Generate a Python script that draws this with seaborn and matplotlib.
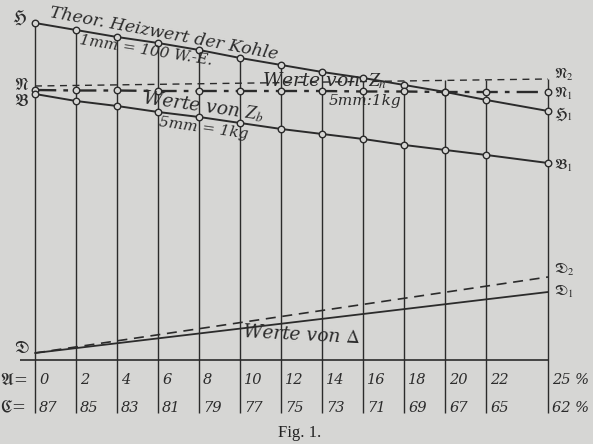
import numpy as np
import pandas as pd
import matplotlib
matplotlib.use("Agg")
import matplotlib.pyplot as plt
import seaborn as sns

# ---- data (heights above the base line) ----
a_vals = [0, 2, 4, 6, 8, 10, 12, 14, 16, 18, 20, 22, 25]          # A (%)
c_vals = [87, 85, 83, 81, 79, 77, 75, 73, 71, 69, 67, 65, 62]    # C (%)
h_vals = [337, 330, 323, 317, 310, 302, 295, 288, 282, 275, 268, 260, 249]   # Theor. Heizwert
n1_vals = [270, 269.5, 269.5, 269, 269, 269, 269, 269, 268.5, 268.5, 268, 268, 268]  # Zn
n2_x = [0, 25]
n2_vals = [274, 281]                                               # N2 dashed
b_vals = [266, 259, 254, 248, 243, 237, 231, 226, 221, 215, 210, 205, 197]   # Zb
d_x = [0, 25]
d1_vals = [7, 68]
d2_vals = [7, 83]

BG = "#d6d6d4"
INK = "#2b2b2b"

sns.set_theme(style="white")
plt.rcParams["mathtext.fontset"] = "stix"
plt.rcParams["font.family"] = ["DejaVu Serif"]

fig = plt.figure(figsize=(5.93, 4.44), dpi=100, facecolor=BG)
ax = fig.add_axes([0, 0, 1, 1], facecolor=BG)
ax.set_xlim(-35 / 20.52, (593 - 35) / 20.52)
ax.set_ylim(360 - 444, 360)
ax.axis("off")

df = pd.DataFrame({"A": a_vals, "H": h_vals, "N1": n1_vals, "B": b_vals})

# vertical lines
n2_at = np.interp(a_vals, n2_x, n2_vals)
tops = np.maximum(np.array(h_vals), n2_at)
ax.vlines(a_vals, -53, tops, color=INK, lw=1.0, zorder=1)
# base line
ax.hlines(0, -0.73, 25, color=INK, lw=1.2, zorder=1)

# main lines
sns.lineplot(data=df, x="A", y="H", ax=ax, color=INK, lw=1.4, zorder=2)
sns.lineplot(data=df, x="A", y="B", ax=ax, color=INK, lw=1.4, zorder=2)
sns.lineplot(data=df, x="A", y="N1", ax=ax, color=INK, lw=1.7, zorder=2,
             linestyle=(0, (9, 3, 2, 3)))
sns.lineplot(x=n2_x, y=n2_vals, ax=ax, color=INK, lw=1.0, zorder=2,
             linestyle=(0, (5, 4)))
sns.lineplot(x=d_x, y=d1_vals, ax=ax, color=INK, lw=1.3, zorder=2)
sns.lineplot(x=d_x, y=d2_vals, ax=ax, color=INK, lw=1.2, zorder=2,
             linestyle=(0, (6, 4)))

for col in ["H", "N1", "B"]:
    sns.scatterplot(data=df, x="A", y=col, ax=ax, s=22, marker="o",
                    facecolor=BG, edgecolor=INK, linewidth=1.0, zorder=3)
ax.set_xlabel("")
ax.set_ylabel("")

hand = dict(color=INK, style="italic", fontsize=13.5)
small = dict(color=INK, style="italic", fontsize=11)

# line labels
ax.text(6.3, 326, "Theor. Heizwert der Kohle", rotation=-10.5, ha="center", va="center",
        color=INK, style="italic", fontsize=12.5)
ax.text(5.4, 309, "1mm = 100 W.-E.", rotation=-9, ha="center", va="center", **small)
ax.text(14.1, 279, "Werte von $\\,Z_n$", ha="center", va="center", **hand)
ax.text(16.1, 259, "5mm:1kg", ha="center", va="center", **small)
ax.text(8.2, 254, "Werte von $Z_b$", rotation=-8, ha="center", va="center", **hand)
ax.text(8.2, 232, "5mm = 1kg", rotation=-8, ha="center", va="center", **small)
ax.text(13.0, 25, "Werte von $\\Delta$", rotation=-3, ha="center", va="center", **hand)

# left letters
lk = dict(color=INK, fontsize=12, ha="center", va="center")
ax.text(-0.75, 342, r"$\mathfrak{H}$", **lk)
ax.text(-0.65, 275, r"$\mathfrak{N}$", **lk)
ax.text(-0.65, 259, r"$\mathfrak{B}$", **lk)
ax.text(-0.65, 12, r"$\mathfrak{D}$", **lk)
ax.text(-1.05, -20, r"$\mathfrak{A}$=", **lk)
ax.text(-1.05, -48, r"$\mathfrak{C}$=", **lk)

# right letters
rk = dict(color=INK, fontsize=11, ha="left", va="center")
ax.text(25.3, 285, r"$\mathfrak{N}_2$", **rk)
ax.text(25.3, 266, r"$\mathfrak{N}_1$", **rk)
ax.text(25.3, 246, r"$\mathfrak{H}_1$", **rk)
ax.text(25.3, 194, r"$\mathfrak{B}_1$", **rk)
ax.text(25.3, 90, r"$\mathfrak{D}_2$", **rk)
ax.text(25.3, 68, r"$\mathfrak{D}_1$", **rk)

# tick labels
for i, (a, c) in enumerate(zip(a_vals, c_vals)):
    at = f"{a} %" if i == len(a_vals) - 1 else f"{a}"
    ct = f"{c} %" if i == len(c_vals) - 1 else f"{c}"
    ax.text(a + 0.2, -20, at, ha="left", va="center", color=INK, style="italic", fontsize=10.5)
    ax.text(a + 0.2, -48, ct, ha="left", va="center", color=INK, style="italic", fontsize=10.5)

ax.text(12.9, -73, "Fig. 1.", ha="center", va="center", color="#222222", fontsize=12,
        family="Liberation Serif")

fig.savefig("out.png", dpi=100, facecolor=BG)
